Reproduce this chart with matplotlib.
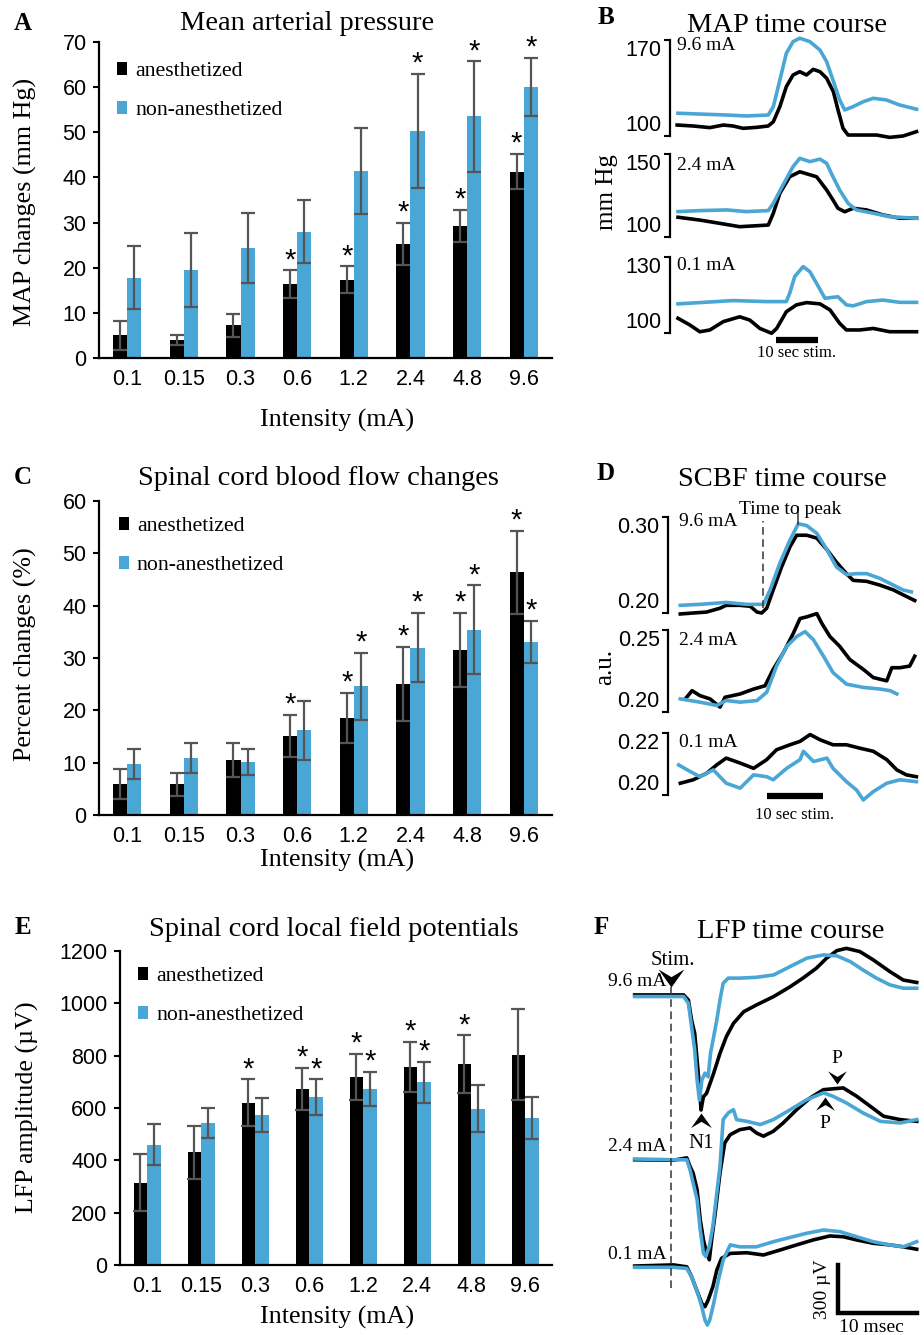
"""Anesthesia vs non-anesthesia: MAP, SCBF and LFP responses to stimulation"""
import numpy as np
import matplotlib
matplotlib.use("Agg")
import matplotlib.pyplot as plt
from matplotlib.path import Path as MPath

SERIF = "Liberation Serif"
SANS = "Liberation Sans"
BLUE = "#4aa6d4"
ERR = "#555555"
plt.rcParams["font.family"] = [SANS, "DejaVu Sans"]

W, H = 924, 1335

intensity = ["0.1", "0.15", "0.3", "0.6", "1.2", "2.4", "4.8", "9.6"]

# A. MAP changes (mm Hg)
map_anes = [5.0, 4.0, 7.2, 16.4, 17.3, 25.2, 29.3, 41.3]
map_anes_err = [3.3, 1.2, 2.5, 3.0, 3.0, 4.7, 3.5, 3.9]
map_awake = [17.8, 19.6, 24.4, 28.0, 41.4, 50.3, 53.5, 60.1]
map_awake_err = [7.0, 8.2, 7.8, 6.9, 9.6, 12.6, 12.2, 6.4]
map_sig_anes = [0, 0, 0, 1, 1, 1, 1, 1]
map_sig_awake = [0, 0, 0, 0, 0, 1, 1, 1]

# C. spinal cord blood flow changes (%)
scbf_anes = [5.9, 5.9, 10.5, 15.1, 18.5, 25.0, 31.5, 46.4]
scbf_anes_err = [2.9, 2.2, 3.3, 4.0, 4.8, 7.1, 7.1, 7.9]
scbf_awake = [9.7, 10.9, 10.1, 16.2, 24.6, 32.0, 35.4, 33.1]
scbf_awake_err = [2.9, 2.9, 2.5, 5.6, 6.4, 6.6, 8.5, 4.0]
scbf_sig_anes = [0, 0, 0, 1, 1, 1, 1, 1]
scbf_sig_awake = [0, 0, 0, 0, 1, 1, 1, 1]

# E. LFP amplitude (uV)
lfp_anes = [315, 430, 621, 673, 719, 758, 767, 804]
lfp_anes_err = [110, 103, 88, 80, 89, 96, 111, 174]
lfp_awake = [460, 544, 575, 642, 673, 698, 598, 561]
lfp_awake_err = [78, 57, 65, 67, 66, 79, 88, 80]
lfp_sig_anes = [0, 0, 1, 1, 1, 1, 1, 0]
lfp_sig_awake = [0, 0, 0, 1, 1, 1, 0, 0]

# B. MAP time course (s, mm Hg)
b96_t_black = [-23.5, -19.7, -15.7, -12.5, -10.2, -7.8, -4.6, -1.8, -0.6, 0.95, 2.5, 4.1, 5.7,
               7.3, 8.9, 10.5, 12.1, 13.7, 14.8, 16.0, 17.2, 20.8, 24.0, 27.1, 30.3, 33.5]
b96_black = [108.0, 107.3, 106.1, 108.0, 107.3, 105.6, 106.3, 107.3, 110.4, 121.4, 136.0, 144.5, 146.9,
             144.5, 148.6, 146.9, 142.1, 132.3, 119.0, 105.6, 100.7, 100.7, 100.7, 99.0, 100.0, 103.2]
b96_t_blue = [-23.3, -18.1, -11.7, -7.0, -1.8, -0.6, 0.95, 2.5, 4.1, 5.7, 8.1, 10.5, 12.1, 13.6,
              15.2, 16.4, 18.4, 20.8, 23.2, 26.3, 29.5, 33.5]
b96_blue = [116.6, 116.0, 115.3, 114.6, 115.3, 121.4, 140.8, 160.3, 168.8, 171.3, 168.8, 162.7, 154.2, 140.8,
            126.3, 119.0, 121.4, 125.0, 127.5, 126.3, 122.6, 119.5]
b24_t_black = [-23.3, -18.1, -13.3, -8.6, -1.8, -0.6, 0.95, 3.3, 5.7, 9.7, 12.1, 13.6, 14.8, 16.4,
               18.4, 21.6, 25.5, 29.5, 33.5]
b24_black = [111.9, 110.2, 108.2, 106.2, 107.2, 114.3, 126.3, 136.3, 139.3, 136.3, 128.3, 122.3, 117.3, 115.2,
             117.3, 116.3, 113.3, 111.3, 111.3]
b24_t_blue = [-23.3, -18.1, -11.7, -7.0, -1.8, -0.6, 1.7, 4.1, 5.7, 8.1, 10.5, 12.1, 13.6, 15.2,
              17.2, 19.2, 23.2, 27.1, 33.5]
b24_blue = [115.3, 115.9, 116.3, 115.3, 115.9, 120.3, 131.3, 142.4, 147.4, 145.4, 146.9, 144.4, 136.3, 128.3,
            120.3, 116.3, 114.3, 112.2, 111.3]
b01_t_black = [-23.3, -20.5, -18.1, -15.7, -12.5, -8.6, -6.2, -3.8, -1.0, 0.2, 2.5, 4.9, 7.3, 10.5,
               12.9, 15.2, 16.8, 20.0, 23.2, 27.1, 30.3, 33.5]
b01_black = [105.8, 103.2, 100.5, 101.2, 104.5, 106.4, 105.1, 101.8, 99.9, 101.8, 108.4, 111.1, 112.0, 111.5,
             109.1, 103.8, 101.2, 101.2, 101.8, 100.5, 100.5, 100.5]
b01_t_blue = [-23.3, -18.1, -10.2, -2.2, 2.5, 3.3, 4.5, 6.5, 8.1, 9.7, 11.7, 13.6, 14.8, 16.8,
              18.4, 21.6, 25.5, 29.5, 33.5]
b01_blue = [111.5, 112.0, 112.8, 112.4, 112.4, 115.7, 122.3, 126.2, 124.2, 119.6, 113.7, 114.1, 114.3, 111.1,
            110.7, 112.4, 113.0, 112.1, 112.1]

# D. SCBF time course (s, a.u.)
d96_t_black = [-15.5, -13.2, -10.8, -8.4, -7.3, -4.8, -3.0, -1.8, -0.95, -0.06, 1.1, 2.6, 4.1,
               5.3, 7.1, 8.9, 10.7, 12.4, 14.2, 15.4, 17.8, 20.2, 22.6, 24.3, 26.4]
d96_black = [0.199, 0.200, 0.201, 0.205, 0.208, 0.208, 0.207, 0.201, 0.200, 0.205, 0.224, 0.248, 0.269,
             0.281, 0.281, 0.278, 0.266, 0.253, 0.241, 0.234, 0.233, 0.229, 0.224, 0.219, 0.213]
d96_t_blue = [-15.5, -12.0, -7.3, -3.6, -0.65, 0.54, 2.3, 4.1, 5.6, 7.1, 8.9, 10.7, 12.4, 14.2,
              16.0, 17.8, 20.2, 22.6, 24.3, 25.8]
d96_blue = [0.208, 0.209, 0.211, 0.209, 0.209, 0.224, 0.252, 0.276, 0.293, 0.291, 0.283, 0.266, 0.248, 0.240,
            0.241, 0.241, 0.236, 0.229, 0.224, 0.222]
d24_t_black = [-14.6, -13.4, -12.0, -10.2, -8.4, -7.5, -4.8, -2.4, -0.36, 1.1, 2.9, 4.7, 5.9,
               7.1, 8.9, 9.8, 11.25, 13.0, 14.8, 17.2, 19.0, 21.4, 22.3, 23.75, 25.5, 26.4]
d24_black = [0.208, 0.213, 0.210, 0.208, 0.203, 0.209, 0.211, 0.214, 0.216, 0.226, 0.236, 0.248, 0.257,
             0.258, 0.260, 0.254, 0.246, 0.240, 0.232, 0.226, 0.221, 0.219, 0.227, 0.227, 0.228, 0.234]
d24_t_blue = [-15.5, -12.0, -9.0, -7.3, -4.8, -1.8, -0.06, 1.7, 3.5, 5.3, 6.8, 8.3, 10.1, 11.8,
              14.2, 17.2, 20.2, 22.0, 23.2]
d24_blue = [0.208, 0.206, 0.204, 0.207, 0.206, 0.207, 0.212, 0.228, 0.240, 0.246, 0.249, 0.244, 0.234, 0.224,
            0.217, 0.215, 0.214, 0.213, 0.211]
d01_t_black = [-15.5, -13.2, -10.8, -9.0, -7.3, -4.8, -2.4, -0.06, 1.7, 4.1, 5.9, 7.7, 9.5, 11.8,
               14.2, 16.6, 19.0, 21.4, 23.2, 24.9, 26.7]
d01_black = [0.2038, 0.2049, 0.2070, 0.2097, 0.2119, 0.2103, 0.2086, 0.2114, 0.2146, 0.2162, 0.2173, 0.2195,
             0.2178, 0.2162, 0.2162, 0.2151, 0.2141, 0.2114, 0.2081, 0.2065, 0.2059]
d01_t_blue = [-15.8, -13.75, -12.0, -9.6, -7.3, -4.8, -2.4, -0.06, 1.1, 3.5, 5.9, 6.5, 8.3, 10.7,
              11.8, 14.2, 16.0, 17.2, 19.0, 21.4, 23.75, 26.7]
d01_blue = [0.2097, 0.2076, 0.2059, 0.2081, 0.2038, 0.2022, 0.2065, 0.2059, 0.2049, 0.2086, 0.2114, 0.2141,
            0.2108, 0.2119, 0.2086, 0.2043, 0.2016, 0.1984, 0.2011, 0.2038, 0.2049, 0.2043]

# F. LFP time course (ms, uV relative to baseline)
f96_t_black = [-4.6, -1.8, 1.6, 2.2, 2.6, 3.0, 3.3, 3.6, 3.8, 4.1, 4.5, 5.4, 6.2, 7.0, 7.9, 9.2,
               10.8, 13.0, 15.1, 16.7, 18.4, 19.7, 21.0, 22.2, 23.9, 25.6, 27.7, 29.4, 31.1]
f96_black = [0, 0, 0, -32, -156, -240, -406, -574, -719, -636, -615, -489, -365, -261, -178, -105,
             -63, -10, 52, 105, 167, 230, 277, 291, 271, 219, 146, 93, 78]
f96_t_blue = [-4.6, -1.8, 1.6, 2.2, 2.6, 3.0, 3.3, 3.6, 3.9, 4.3, 4.7, 5.0, 5.4, 5.8, 6.2, 6.6,
              7.25, 8.7, 10.8, 13.0, 15.1, 17.2, 19.3, 21.0, 22.7, 24.3, 26.0, 27.7, 29.4, 31.1]
f96_blue = [-10, -10, -10, -52, -198, -344, -532, -657, -532, -489, -511, -365, -261, -156, -32, 73,
            105, 105, 110, 125, 178, 230, 250, 244, 208, 156, 105, 63, 42, 42]
f24_t_black = [-4.6, 0.3, 2.0, 2.4, 2.8, 3.3, 3.7, 4.1, 4.5, 4.85, 5.15, 5.6, 6.2, 6.8, 7.5, 8.7,
               10.0, 10.8, 11.7, 12.95, 14.2, 15.9, 17.6, 19.3, 21.8, 23.5, 25.2, 26.9, 29.0, 31.1]
f24_black = [-5, -8, 7, -46, -88, -191, -379, -504, -588, -630, -504, -338, -88, 100, 152, 183,
             194, 163, 142, 173, 225, 308, 381, 433, 444, 392, 330, 267, 246, 235]
f24_t_blue = [-4.6, 0.3, 2.0, 2.4, 2.9, 3.3, 3.7, 4.1, 4.4, 4.85, 5.3, 5.7, 6.2, 6.6, 7.25, 7.9,
              8.3, 9.6, 11.3, 12.95, 15.1, 17.2, 19.3, 20.5, 22.2, 24.3, 26.5, 29.0, 31.1]
f24_blue = [0, -5, -5, -66, -171, -254, -442, -588, -609, -546, -421, -254, -46, 246, 288, 308,
            246, 235, 215, 246, 308, 371, 413, 392, 350, 288, 235, 225, 246]
f01_t_black = [-4.6, 0.3, 2.0, 2.6, 3.25, 3.9, 4.3, 4.7, 5.3, 5.8, 6.4, 7.5, 9.6, 11.7, 13.8, 15.9,
               18.0, 20.1, 21.8, 23.5, 25.6, 27.7, 29.4, 31.1]
f01_black = [0, 7, -5, -66, -150, -234, -254, -213, -129, -25, 48, 79, 83, 69, 100, 132,
             163, 188, 183, 163, 142, 132, 120, 105]
f01_t_blue = [-4.6, 0.3, 2.0, 2.6, 3.25, 3.9, 4.3, 4.6, 4.9, 5.4, 6.0, 6.6, 7.5, 8.7, 10.8, 12.95,
              15.1, 17.2, 19.3, 21.4, 23.5, 25.6, 27.7, 29.4, 31.1]
f01_blue = [-8, -8, -15, -66, -150, -254, -338, -369, -338, -234, -88, 37, 132, 120, 120, 152,
            179, 205, 225, 215, 183, 152, 132, 120, 152]

fig = plt.figure(figsize=(W / 100, H / 100), dpi=100)

TICK_FS = 15.5
TITLE_FS = 20.5
LABEL_FS = 18.7
TRACE_LW = 2.6


def px_axes(left, top, right, bottom):
    return fig.add_axes([left / W, 1 - bottom / H, (right - left) / W, (bottom - top) / H])


def ftext(x, y, s, **kw):
    kw.setdefault("family", SERIF)
    return fig.text(x / W, 1 - y / H, s, **kw)


def bar_panel(ax, anes, anes_err, awake, awake_err, sig_a, sig_b, ymax, ystep, legend_xy):
    x = np.arange(len(intensity))
    w = 0.25
    ax.bar(x - w / 2, anes, w, color="black", label="anesthetized", zorder=2)
    ax.bar(x + w / 2, awake, w, color=BLUE, label="non-anesthetized", zorder=2)
    for xs, ys, es, sig in [(x - w / 2, anes, anes_err, sig_a), (x + w / 2, awake, awake_err, sig_b)]:
        ax.errorbar(xs, ys, yerr=es, fmt="none", ecolor=ERR, elinewidth=1.6,
                    capsize=5, capthick=1.6, zorder=3)
        for xi, yi, ei, s in zip(xs, ys, es, sig):
            if s:
                ax.annotate("*", (xi, yi + ei), xytext=(0, 1.5), textcoords="offset points",
                            ha="center", va="baseline", fontsize=21, family=SANS)
    ax.set_xlim(-0.5, len(intensity) - 0.5)
    ax.set_ylim(0, ymax)
    ax.set_yticks(np.arange(0, ymax + 1, ystep))
    ax.set_xticks(x)
    ax.set_xticklabels(intensity)
    for s in ["top", "right"]:
        ax.spines[s].set_visible(False)
    for s in ["left", "bottom"]:
        ax.spines[s].set_linewidth(1.6)
    ax.tick_params(axis="y", length=4, width=1.5, labelsize=TICK_FS, pad=5)
    ax.tick_params(axis="x", length=0, labelsize=TICK_FS, pad=8)
    ax.legend(loc="upper left", bbox_to_anchor=legend_xy, frameon=False,
              prop={"family": SERIF, "size": 15.7}, handlelength=0.47, handleheight=0.55,
              handletextpad=0.35, labelspacing=0.9, borderpad=0, borderaxespad=0)


axA = px_axes(99, 42, 552, 358)
bar_panel(axA, map_anes, map_anes_err, map_awake, map_awake_err, map_sig_anes, map_sig_awake,
          70, 10, (0.040, 0.937))
axC = px_axes(99, 501, 552, 815)
bar_panel(axC, scbf_anes, scbf_anes_err, scbf_awake, scbf_awake_err, scbf_sig_anes, scbf_sig_awake,
          60, 10, (0.044, 0.949))
axE = px_axes(120, 951, 552, 1265)
bar_panel(axE, lfp_anes, lfp_anes_err, lfp_awake, lfp_awake_err, lfp_sig_anes, lfp_sig_awake,
          1200, 200, (0.042, 0.949))

ftext(307, 24, "Mean arterial pressure", ha="center", va="center", fontsize=TITLE_FS)
ftext(318, 478, "Spinal cord blood flow changes", ha="center", va="center", fontsize=TITLE_FS)
ftext(334, 930, "Spinal cord local field potentials", ha="center", va="center", fontsize=TITLE_FS)
for yy in [420, 860, 1317]:
    ftext(337, yy, "Intensity (mA)", ha="center", va="center", fontsize=LABEL_FS)
ftext(25, 202, "MAP changes (mm Hg)", ha="center", va="center", rotation=90, fontsize=LABEL_FS)
ftext(25, 654, "Percent changes (%)", ha="center", va="center", rotation=90, fontsize=LABEL_FS)
ftext(27, 1107, "LFP amplitude (\u00b5V)", ha="center", va="center", rotation=90, fontsize=LABEL_FS)

for lx, ly, letter in [(23, 23, "A"), (606, 18, "B"), (23, 477, "C"), (606, 473, "D"),
                       (23, 927, "E"), (601, 928, "F")]:
    ftext(lx, ly, letter, ha="center", va="center", fontsize=18, weight="bold")


def trace_axes(box, lo, hi, labels, xlim, black, blue):
    ax = px_axes(*box)
    ax.plot(black[0], black[1], color="black", lw=TRACE_LW, clip_on=False)
    ax.plot(blue[0], blue[1], color=BLUE, lw=TRACE_LW, clip_on=False)
    ax.set_xlim(*xlim)
    ax.set_ylim(lo, hi)
    for s in ["top", "right", "bottom"]:
        ax.spines[s].set_visible(False)
    ax.spines["left"].set_linewidth(1.6)
    ax.set_xticks([])
    ax.set_yticks([lo, hi])
    ax.set_yticklabels(labels)
    tl = ax.get_yticklabels()
    tl[0].set_va("bottom")
    tl[1].set_va("top")
    ax.tick_params(axis="y", length=4, width=1.5, labelsize=TICK_FS, pad=2)
    ax.patch.set_visible(False)
    return ax


# B. MAP time course
b_xlim = (-25.2, 34.8)
trace_axes((670, 40, 922, 136), 100, 170, ["100", "170"], b_xlim,
           (b96_t_black, b96_black), (b96_t_blue, b96_blue))
trace_axes((670, 154, 922, 237), 100, 150, ["100", "150"], b_xlim,
           (b24_t_black, b24_black), (b24_t_blue, b24_blue))
axB3 = trace_axes((670, 257, 922, 333), 100, 130, ["100", "130"], b_xlim,
                  (b01_t_black, b01_black), (b01_t_blue, b01_blue))
stim_on, stim_off = 0, 10
axB3.plot([stim_on, stim_off], [-0.09, -0.09], color="black", lw=4.5,
          transform=axB3.get_xaxis_transform(), clip_on=False, solid_capstyle="butt")
axB3.text((stim_on + stim_off) / 2, -0.26, "10 sec stim.", transform=axB3.get_xaxis_transform(),
          ha="center", va="center", family=SERIF, fontsize=12)
ftext(787, 25, "MAP time course", ha="center", va="center", fontsize=TITLE_FS)
ftext(607, 192, "mm Hg", ha="center", va="center", rotation=90, fontsize=18)
for yy, lab in [(45, "9.6 mA"), (165, "2.4 mA"), (265, "0.1 mA")]:
    ftext(677, yy, lab, ha="left", va="center", fontsize=14)

# D. SCBF time course
d_xlim = (-17.7, 27.7)
axD1 = trace_axes((668, 517, 922, 613), 0.20, 0.30, ["0.20", "0.30"], d_xlim,
                  (d96_t_black, d96_black), (d96_t_blue, d96_blue))
trace_axes((668, 630, 922, 712), 0.20, 0.25, ["0.20", "0.25"], d_xlim,
           (d24_t_black, d24_black), (d24_t_blue, d24_blue))
axD3 = trace_axes((668, 733, 922, 795), 0.20, 0.22, ["0.20", "0.22"], d_xlim,
                  (d01_t_black, d01_black), (d01_t_blue, d01_blue))
axD3.plot([stim_on, stim_off], [-0.02, -0.02], color="black", lw=4.5,
          transform=axD3.get_xaxis_transform(), clip_on=False, solid_capstyle="butt")
axD3.text((stim_on + stim_off) / 2, -0.33, "10 sec stim.", transform=axD3.get_xaxis_transform(),
          ha="center", va="center", family=SERIF, fontsize=12)
# time to peak markers
onset_t = -0.7
peak_t = d96_t_blue[int(np.argmax(d96_blue))]
axD1.plot([onset_t, onset_t], [0.205, 0.296], color="#333333", lw=1.1, ls=(0, (5, 3)), clip_on=False)
axD1.plot([peak_t, peak_t], [0.293, 0.31], color="#333333", lw=1.1, clip_on=False)
axD1.text((onset_t + peak_t) / 2 + 1.7, 0.308, "Time to peak", ha="center", va="center",
          family=SERIF, fontsize=14)
ftext(782, 479, "SCBF time course", ha="center", va="center", fontsize=TITLE_FS)
ftext(605, 667, "a.u.", ha="center", va="center", rotation=90, fontsize=18)
for yy, lab in [(521, "9.6 mA"), (640, "2.4 mA"), (742, "0.1 mA")]:
    ftext(679, yy, lab, ha="left", va="center", fontsize=14)

# F. LFP time course
axF = px_axes(630, 945, 922, 1335)
axF.set_xlim(-5.19, 31.77)
axF.set_ylim(-431, 2006)
axF.axis("off")
off_01, off_24, off_96 = 0, 669, 1694
for tt, vv, col, off in [(f96_t_black, f96_black, "black", off_96), (f96_t_blue, f96_blue, BLUE, off_96),
                         (f24_t_black, f24_black, "black", off_24), (f24_t_blue, f24_blue, BLUE, off_24),
                         (f01_t_black, f01_black, "black", off_01), (f01_t_blue, f01_blue, BLUE, off_01)]:
    axF.plot(tt, np.array(vv) + off, color=col, lw=TRACE_LW, clip_on=False)

chev_down = MPath([(0, 0), (-1, 1.4), (0, 0.8), (1, 1.4), (0, 0)])
chev_up = MPath([(0, 0), (-1, -1.4), (0, -0.8), (1, -1.4), (0, 0)])

stim_t = 0
stim_tip = off_96 + 50
axF.plot([stim_t, stim_t], [-137, stim_tip], color="#333333", lw=1.1, ls=(0, (5, 3)))
axF.plot([stim_t], [stim_tip], marker=chev_down, ms=26, color="black", mew=0)
axF.text(stim_t + 0.3, off_96 + 218, "Stim.", ha="center", va="center", family=SERIF, fontsize=15)

i_n1 = int(np.argmin(f96_black))
n1_t, n1_tip = f96_t_black[i_n1], f96_black[i_n1] + off_96 - 20
axF.plot([n1_t], [n1_tip], marker=chev_up, ms=21, color="black", mew=0)
axF.text(n1_t, n1_tip - 190, "N1", ha="center", va="center", family=SERIF, fontsize=15)

i_pb = int(np.argmax(f24_black))
pb_t, pb_tip = f24_t_black[i_pb] - 0.8, f24_black[i_pb] + off_24 + 25
axF.plot([pb_t], [pb_tip], marker=chev_down, ms=19, color="black", mew=0)
axF.text(pb_t, pb_tip + 160, "P", ha="center", va="center", family=SERIF, fontsize=14)

i_pu = int(np.argmax(f24_blue))
pu_t, pu_tip = f24_t_blue[i_pu] + 0.2, f24_blue[i_pu] + off_24 - 25
axF.plot([pu_t], [pu_tip], marker=chev_up, ms=19, color="black", mew=0)
axF.text(pu_t, pu_tip - 165, "P", ha="center", va="center", family=SERIF, fontsize=14)

for off, lab, dy in [(off_96, "9.6 mA", 81), (off_24, "2.4 mA", 75), (off_01, "0.1 mA", 69)]:
    axF.text(-0.6, off + dy, lab, ha="right", va="center", family=SERIF, fontsize=14)

sb_t, sb_v = 21.1, -294
axF.plot([sb_t, sb_t, sb_t + 10], [sb_v + 300, sb_v, sb_v], color="black", lw=3.2,
         solid_joinstyle="miter", clip_on=False)
axF.text(sb_t - 1.9, sb_v + 150, "300 \u00b5V", rotation=90, ha="center", va="center",
         family=SERIF, fontsize=14)
axF.text(sb_t + 4.3, sb_v - 90, "10 msec", ha="center", va="center", family=SERIF, fontsize=14)
ftext(791, 932, "LFP time course", ha="center", va="center", fontsize=TITLE_FS)

fig.savefig("out.png", dpi=100)
